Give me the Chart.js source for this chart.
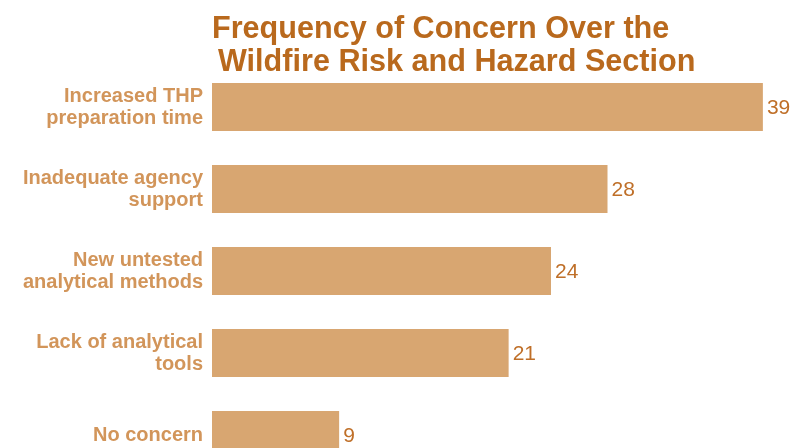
<!DOCTYPE html>
<html>
<head>
    <title>Frequency of Concern</title>
    <script src="https://cdn.jsdelivr.net/npm/chart.js"></script>
    <style>
        body {
            margin: 0;
            background-color: #ffffff;
            overflow: hidden;
        }
        canvas {
            display: block;
        }
    </style>
</head>
<body>

    <canvas id="concernChart" width="795" height="476"></canvas>

    <script>
        const categories = [
            ['Increased THP', 'preparation time'],
            ['Inadequate agency', 'support'],
            ['New untested', 'analytical methods'],
            ['Lack of analytical', 'tools'],
            'No concern'
        ];
        const counts = [39, 28, 24, 21, 9];
        const titleLines = ['Frequency of Concern Over the', 'Wildfire Risk and Hazard Section'];

        // title drawn by hand so it can sit off-centre like the original
        const titlePlugin = {
            id: 'titleLines',
            afterDraw(chart) {
                const ctx = chart.ctx;
                ctx.save();
                ctx.fillStyle = '#b9691d';
                ctx.font = 'bold 30.6px "Liberation Sans", Arial, sans-serif';
                ctx.textAlign = 'left';
                ctx.textBaseline = 'alphabetic';
                ctx.fillText(titleLines[0], 212, 38);
                ctx.fillText(titleLines[1], 218, 71);
                ctx.restore();
            }
        };

        const valueLabels = {
            id: 'valueLabels',
            afterDatasetsDraw(chart) {
                const ctx = chart.ctx;
                const meta = chart.getDatasetMeta(0);
                ctx.save();
                ctx.fillStyle = '#bf6f28';
                ctx.font = '21px "Liberation Sans", Arial, sans-serif';
                ctx.textAlign = 'left';
                ctx.textBaseline = 'middle';
                meta.data.forEach((bar, i) => {
                    ctx.fillText(counts[i], bar.x + 4, bar.y + 1);
                });
                ctx.restore();
            }
        };

        const ctx = document.getElementById('concernChart').getContext('2d');
        new Chart(ctx, {
            type: 'bar',
            data: {
                labels: categories,
                datasets: [{
                    data: counts,
                    backgroundColor: '#d8a671',
                    categoryPercentage: 1,
                    barPercentage: 0.585
                }]
            },
            options: {
                indexAxis: 'y',
                responsive: false,
                devicePixelRatio: 1,
                animation: false,
                layout: {
                    padding: { top: 66, right: 18, bottom: 0, left: 0 }
                },
                plugins: {
                    legend: { display: false },
                    title: { display: false },
                    tooltip: { enabled: false }
                },
                scales: {
                    x: {
                        display: false,
                        min: 0,
                        max: 40
                    },
                    y: {
                        grid: { display: false, drawTicks: false },
                        border: { display: false },
                        afterFit(scale) {
                            scale.width = 212;
                            scale.paddingTop = 0;
                            scale.paddingBottom = 0;
                        },
                        ticks: {
                            padding: 9,
                            color: '#d2955a',
                            font: {
                                family: '"Liberation Sans", Arial, sans-serif',
                                size: 20,
                                weight: 'bold',
                                lineHeight: 1.1
                            }
                        }
                    }
                }
            },
            plugins: [titlePlugin, valueLabels]
        });
    </script>
</body>
</html>
